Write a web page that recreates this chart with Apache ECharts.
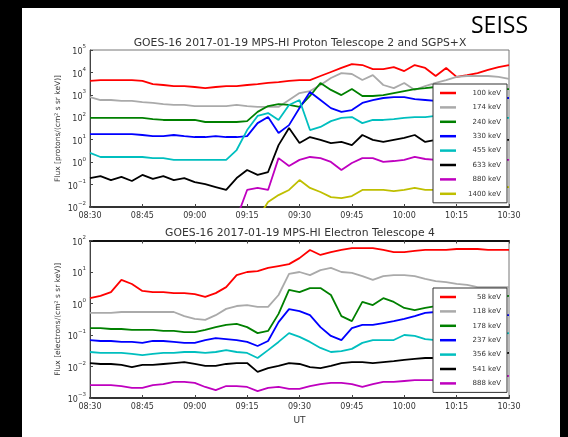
<!DOCTYPE html>
<html><head><meta charset="utf-8">
<script src="https://cdn.jsdelivr.net/npm/echarts@6/dist/echarts.min.js"></script>
<style>
html,body{margin:0;padding:0;background:#000;width:568px;height:437px;overflow:hidden}
#panel{position:absolute;left:22px;top:8px;width:538px;height:429px;background:#fff}
#c{position:absolute;left:0;top:0;width:568px;height:437px}
</style>
</head><body><div id="panel"></div><div id="c"></div>
<script>
// minutes after 08:30 UT
const minutes = [0,3,6,9,12,15,18,21,24,27,30,33,36,39,42,45,48,51,54,57,60,63,66,69,72,75,78,81,84,87,90,93,96,99,102,105,108,111,114,117,120];
const tickLabels = ["08:30","08:45","09:00","09:15","09:30","09:45","10:00","10:15","10:30"];

// Proton channels, log10 flux
const protonNames = ["100 keV","174 keV","240 keV","330 keV","455 keV","633 keV","880 keV","1400 keV"];
const p1 = [3.62,3.66,3.66,3.66,3.66,3.62,3.48,3.44,3.39,3.39,3.35,3.30,3.35,3.39,3.39,3.44,3.48,3.53,3.57,3.62,3.66,3.66,3.84,4.02,4.20,4.37,4.33,4.15,4.15,4.24,4.06,4.33,4.20,3.84,4.20,3.80,3.88,3.97,4.11,4.24,4.33];
const p2 = [2.90,2.77,2.77,2.73,2.73,2.68,2.64,2.59,2.55,2.55,2.50,2.50,2.50,2.50,2.55,2.50,2.46,2.46,2.46,2.77,3.08,3.17,3.44,3.75,3.97,3.93,3.66,3.88,3.44,3.30,3.53,3.22,3.39,3.53,3.66,3.80,3.84,3.84,3.84,3.80,3.71];
const p3 = [1.97,1.97,1.97,1.97,1.97,1.97,1.92,1.88,1.88,1.88,1.88,1.79,1.79,1.79,1.79,1.83,2.24,2.50,2.59,2.55,2.46,2.95,3.53,3.22,2.99,3.26,2.95,2.95,2.99,3.08,3.17,3.26,3.30,3.35,3.30,3.30,3.26,3.26,3.26,3.26,3.26];
const p4 = [1.25,1.25,1.25,1.25,1.25,1.21,1.16,1.16,1.21,1.16,1.12,1.12,1.16,1.12,1.12,1.16,1.74,2.01,1.30,1.65,2.41,3.13,2.77,2.41,2.24,2.32,2.64,2.77,2.86,2.90,2.90,2.81,2.77,2.73,2.77,2.81,2.81,2.86,2.86,2.86,2.86];
const p5 = [0.41,0.23,0.23,0.23,0.23,0.23,0.18,0.18,0.10,0.10,0.10,0.10,0.10,0.10,0.54,1.43,2.06,2.19,1.88,2.55,2.77,1.43,1.57,1.83,1.97,2.01,1.74,1.88,1.88,1.92,1.97,2.01,2.01,2.06,2.01,1.97,1.97,1.97,1.97,1.97,1.97];
const p6 = [-0.71,-0.62,-0.80,-0.66,-0.84,-0.57,-0.75,-0.62,-0.80,-0.71,-0.89,-0.98,-1.11,-1.24,-0.71,-0.35,-0.57,-0.44,0.76,1.52,0.85,1.12,0.99,0.85,0.90,0.76,1.21,0.99,0.90,0.99,1.08,1.21,0.90,0.99,0.99,0.99,1.03,0.99,0.99,0.99,0.99];
const p7 = [null,null,null,null,null,null,null,null,null,null,null,null,null,null,-2.5,-1.24,-1.15,-1.24,0.18,-0.17,0.10,0.23,0.18,0.01,-0.35,-0.04,0.18,0.18,0.01,0.05,0.10,0.23,0.14,0.10,0.10,0.10,0.10,0.10,0.10,0.10,0.10];
const p8 = [null,null,null,null,null,null,null,null,null,null,null,null,null,null,null,null,-2.5,-1.78,-1.47,-1.24,-0.80,-1.15,-1.33,-1.56,-1.60,-1.51,-1.24,-1.24,-1.24,-1.29,-1.24,-1.15,-1.24,-1.24,-1.20,-1.15,-1.15,-1.15,-1.15,-1.11,-1.11];

// Electron channels, log10 flux
const electronNames = ["58 keV","118 keV","178 keV","237 keV","356 keV","541 keV","888 keV"];
const e1 = [0.17,0.24,0.36,0.75,0.62,0.40,0.36,0.36,0.33,0.33,0.30,0.21,0.33,0.52,0.90,1.00,1.03,1.13,1.19,1.25,1.44,1.70,1.54,1.63,1.70,1.76,1.76,1.76,1.70,1.63,1.63,1.67,1.70,1.70,1.70,1.73,1.73,1.73,1.70,1.70,1.70];
const e2 = [-0.30,-0.30,-0.30,-0.27,-0.27,-0.27,-0.27,-0.27,-0.27,-0.40,-0.49,-0.52,-0.37,-0.17,-0.08,-0.05,-0.11,-0.11,0.27,0.94,1.00,0.90,1.06,1.13,1.00,0.97,0.87,0.75,0.87,0.90,0.90,0.87,0.78,0.71,0.68,0.62,0.59,0.52,0.52,0.52,0.52];
const e3 = [-0.78,-0.78,-0.81,-0.81,-0.84,-0.84,-0.84,-0.87,-0.87,-0.91,-0.91,-0.84,-0.75,-0.68,-0.65,-0.75,-0.94,-0.87,-0.33,0.43,0.36,0.49,0.49,0.27,-0.40,-0.56,0.05,-0.05,0.17,0.05,-0.14,-0.21,-0.14,-0.08,-0.02,0.05,0.11,0.14,0.17,0.21,0.24];
const e4 = [-1.16,-1.19,-1.19,-1.22,-1.22,-1.25,-1.19,-1.19,-1.22,-1.25,-1.25,-1.16,-1.10,-1.13,-1.16,-1.22,-1.35,-1.19,-0.59,-0.18,-0.24,-0.37,-0.75,-1.03,-1.16,-0.78,-0.68,-0.68,-0.62,-0.56,-0.49,-0.40,-0.30,-0.27,-0.27,-0.30,-0.30,-0.33,-0.33,-0.37,-0.37];
const e5 = [-1.54,-1.57,-1.57,-1.57,-1.60,-1.64,-1.60,-1.57,-1.57,-1.54,-1.54,-1.57,-1.54,-1.48,-1.54,-1.57,-1.73,-1.48,-1.22,-0.94,-1.06,-1.22,-1.41,-1.54,-1.51,-1.44,-1.25,-1.16,-1.16,-1.16,-1.00,-1.03,-1.13,-1.16,-1.10,-1.06,-1.03,-1.00,-0.97,-0.97,-0.94];
const e6 = [-1.89,-1.92,-1.92,-1.95,-2.02,-1.95,-1.95,-1.92,-1.89,-1.86,-1.92,-1.98,-1.98,-1.92,-1.89,-1.89,-2.17,-2.05,-1.98,-1.89,-1.92,-2.02,-2.05,-1.98,-1.89,-1.86,-1.86,-1.89,-1.86,-1.83,-1.79,-1.76,-1.73,-1.73,-1.70,-1.67,-1.64,-1.64,-1.60,-1.60,-1.57];
const e7 = [-2.59,-2.59,-2.59,-2.62,-2.68,-2.68,-2.59,-2.56,-2.49,-2.49,-2.52,-2.65,-2.75,-2.62,-2.62,-2.65,-2.78,-2.68,-2.65,-2.71,-2.71,-2.62,-2.56,-2.52,-2.52,-2.56,-2.65,-2.56,-2.49,-2.49,-2.46,-2.43,-2.43,-2.43,-2.40,-2.40,-2.37,-2.37,-2.33,-2.33,-2.30];

const protonColors = ['#ff0000','#aaaaaa','#008000','#0000ff','#00bfbf','#000000','#bf00bf','#bfbf00'];
const electronColors = ['#ff0000','#aaaaaa','#008000','#0000ff','#00bfbf','#000000','#bf00bf'];

const FONT = 'DejaVu Sans';
const TXT = '#333';

function toData(arr){ return minutes.map((t,i)=> arr[i]==null ? [t,null] : [t, Math.pow(10, arr[i])]); }
function mkSeries(names, arrs, colors, idx){
  return names.map((n,i)=>({
    name:n, type:'line', xAxisIndex:idx, yAxisIndex:idx, data:toData(arrs[i]),
    symbol:'none', smooth:false, connectNulls:false, clip:true,
    lineStyle:{color:colors[i], width:1.8}, itemStyle:{color:colors[i]}, z:2
  }));
}
function expLabel(v){
  const e = Math.round(Math.log10(v));
  return '{b|10}{e|' + (e<0 ? '\u2212'+(-e) : e) + '}';
}
const yRich = { b:{fontSize:8, fontFamily:FONT, color:TXT, lineHeight:12, verticalAlign:'bottom'},
                e:{fontSize:5.5, fontFamily:FONT, color:TXT, lineHeight:12, verticalAlign:'top'} };

function xAxis(idx, withName, pos, lineColor, lineWidth, labels){
  return {
    type:'value', gridIndex:idx, min:0, max:120, interval:15, position:pos,
    axisLine:{show:true, lineStyle:{color:lineColor, width:lineWidth}},
    axisTick:{show:true, inside:true, length:3, lineStyle:{color:'#444'}},
    axisLabel:{show:labels, fontSize:8, fontFamily:FONT, color:TXT, margin:5, formatter:v=>tickLabels[Math.round(v/15)]},
    splitLine:{show:false},
    name: withName ? 'UT' : '', nameLocation:'middle', nameGap:18,
    nameTextStyle:{fontSize:9, fontFamily:FONT, color:TXT}
  };
}
function yAxis(idx, min, max, split, name){
  return {
    type:'log', logBase:10, gridIndex:idx, min:min, max:max, splitNumber:split,
    axisLine:{show:true, lineStyle:{color:'#444', width:1}},
    axisTick:{show:true, inside:true, length:3, lineStyle:{color:'#444'}},
    minorTick:{show:false},
    axisLabel:{formatter:expLabel, rich:yRich, margin:4},
    splitLine:{show:false},
    name:name, nameLocation:'middle', nameGap:28, nameMoveOverlap:false,
    nameTextStyle:{fontSize:7.5, fontFamily:FONT, color:TXT}
  };
}
function legend(names, top){
  return {
    data:names, orient:'vertical', left:433, top:top,
    icon:'rect', itemWidth:16, itemHeight:2.5, itemGap:4.4,
    padding:[4,6,4,7],
    backgroundColor:'#fff', borderColor:'#333', borderWidth:1, borderRadius:0,
    selectedMode:false, z:10,
    formatter:n=>'{a|'+n+'}',
    textStyle:{fontSize:7, fontFamily:FONT, color:TXT,
      rich:{a:{width:40, height:10, lineHeight:10, align:'right', fontSize:7, fontFamily:FONT, color:TXT}}}
  };
}

const chart = echarts.init(document.getElementById('c'), null, {renderer:'canvas'});
chart.setOption({
  backgroundColor:'transparent',
  animation:false,
  grid:[
    {left:90, top:50, width:419, height:157, show:true, borderColor:'#777', borderWidth:1, backgroundColor:'transparent'},
    {left:90, top:240.5, width:419, height:157.5, show:true, borderColor:'#777', borderWidth:1, backgroundColor:'transparent'}
  ],
  xAxis:[
    xAxis(0,false,'bottom','#333',2,true),
    xAxis(1,true,'bottom','#333',2,true),
    xAxis(1,false,'top','#111',2,false)
  ],
  yAxis:[
    yAxis(0, 0.01, 100000, 7, 'Flux [protons/(cm\u00b2 s sr keV)]'),
    yAxis(1, 0.001, 100, 5, 'Flux [electrons/(cm\u00b2 s sr keV)]')
  ],
  legend:[legend(protonNames, 84), legend(electronNames, 288)],
  series:[].concat(
    mkSeries(protonNames, [p1,p2,p3,p4,p5,p6,p7,p8], protonColors, 0),
    mkSeries(electronNames, [e1,e2,e3,e4,e5,e6,e7], electronColors, 1)
  ),
  graphic:[
    {type:'text', left:471, top:15, style:{text:'SEISS', fontSize:23, fontFamily:'Open Sans', fill:'#000'}},
    {type:'text', x:300, y:43, style:{text:'GOES-16 2017-01-19 MPS-HI Proton Telescope 2 and SGPS+X', fontSize:10.8, fontFamily:FONT, fill:TXT, textAlign:'center', textVerticalAlign:'middle'}},
    {type:'text', x:300, y:233, style:{text:'GOES-16 2017-01-19 MPS-HI Electron Telescope 4', fontSize:10.8, fontFamily:FONT, fill:TXT, textAlign:'center', textVerticalAlign:'middle'}}
  ]
});
</script>
</body></html>
